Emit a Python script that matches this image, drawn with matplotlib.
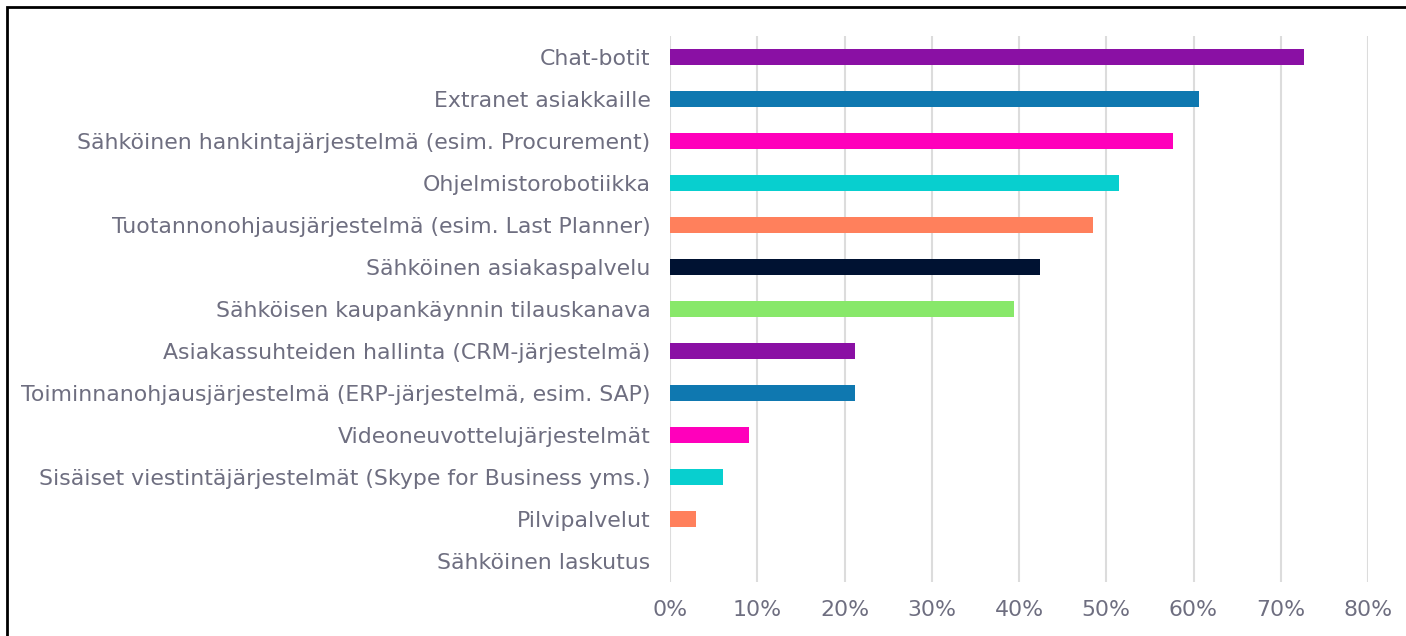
import matplotlib
matplotlib.use("Agg")
import matplotlib.pyplot as plt
from matplotlib.patches import Rectangle
from matplotlib.ticker import PercentFormatter

# kategoriat ylhaalta alas
kategoriat = [
    "Chat-botit",
    "Extranet asiakkaille",
    "Sähköinen hankintajärjestelmä (esim. Procurement)",
    "Ohjelmistorobotiikka",
    "Tuotannonohjausjärjestelmä (esim. Last Planner)",
    "Sähköinen asiakaspalvelu",
    "Sähköisen kaupankäynnin tilauskanava",
    "Asiakassuhteiden hallinta (CRM-järjestelmä)",
    "Toiminnanohjausjärjestelmä (ERP-järjestelmä, esim. SAP)",
    "Videoneuvottelujärjestelmät",
    "Sisäiset viestintäjärjestelmät (Skype for Business yms.)",
    "Pilvipalvelut",
    "Sähköinen laskutus",
]
osuudet = [0.727, 0.606, 0.576, 0.515, 0.485, 0.424, 0.394,
           0.212, 0.212, 0.091, 0.061, 0.030, 0.0]
varit = ["#8A10A4", "#0F78B0", "#FF00BB", "#08CFCF", "#FF805C", "#001232",
         "#88E86A", "#8A10A4", "#0F78B0", "#FF00BB", "#08CFCF", "#FF805C",
         "#001232"]
x_tikit = [0, 0.1, 0.2, 0.3, 0.4, 0.5, 0.6, 0.7, 0.8]

teksti = "#6E6E80"

fig = plt.figure(figsize=(14.06, 6.36), dpi=100)
ax = fig.add_axes([670/1406, 54/636, (1368-670)/1406, 546/636])

y = list(range(len(kategoriat)))
ax.barh(y, osuudet, height=0.36, color=varit, zorder=3)
ax.set_yticks(y)
ax.set_yticklabels(kategoriat)
ax.set_ylim(len(kategoriat) - 0.5, -0.5)

ax.set_xlim(0, 0.8)
ax.set_xticks(x_tikit)
ax.xaxis.set_major_formatter(PercentFormatter(1.0, decimals=0))
ax.grid(axis="x", color="#DCDCDC", linewidth=1.5, zorder=0)

for s in ax.spines.values():
    s.set_visible(False)
ax.tick_params(axis="both", length=0, labelsize=15.8, labelcolor=teksti)
ax.tick_params(axis="y", pad=14)
ax.tick_params(axis="x", pad=13)

# kehys
fig.patches.append(Rectangle((7/1406, -0.1), 1.2, (629/636) + 0.1,
                             transform=fig.transFigure, fill=False,
                             edgecolor="black", linewidth=2))

fig.savefig("out.png", dpi=100)
